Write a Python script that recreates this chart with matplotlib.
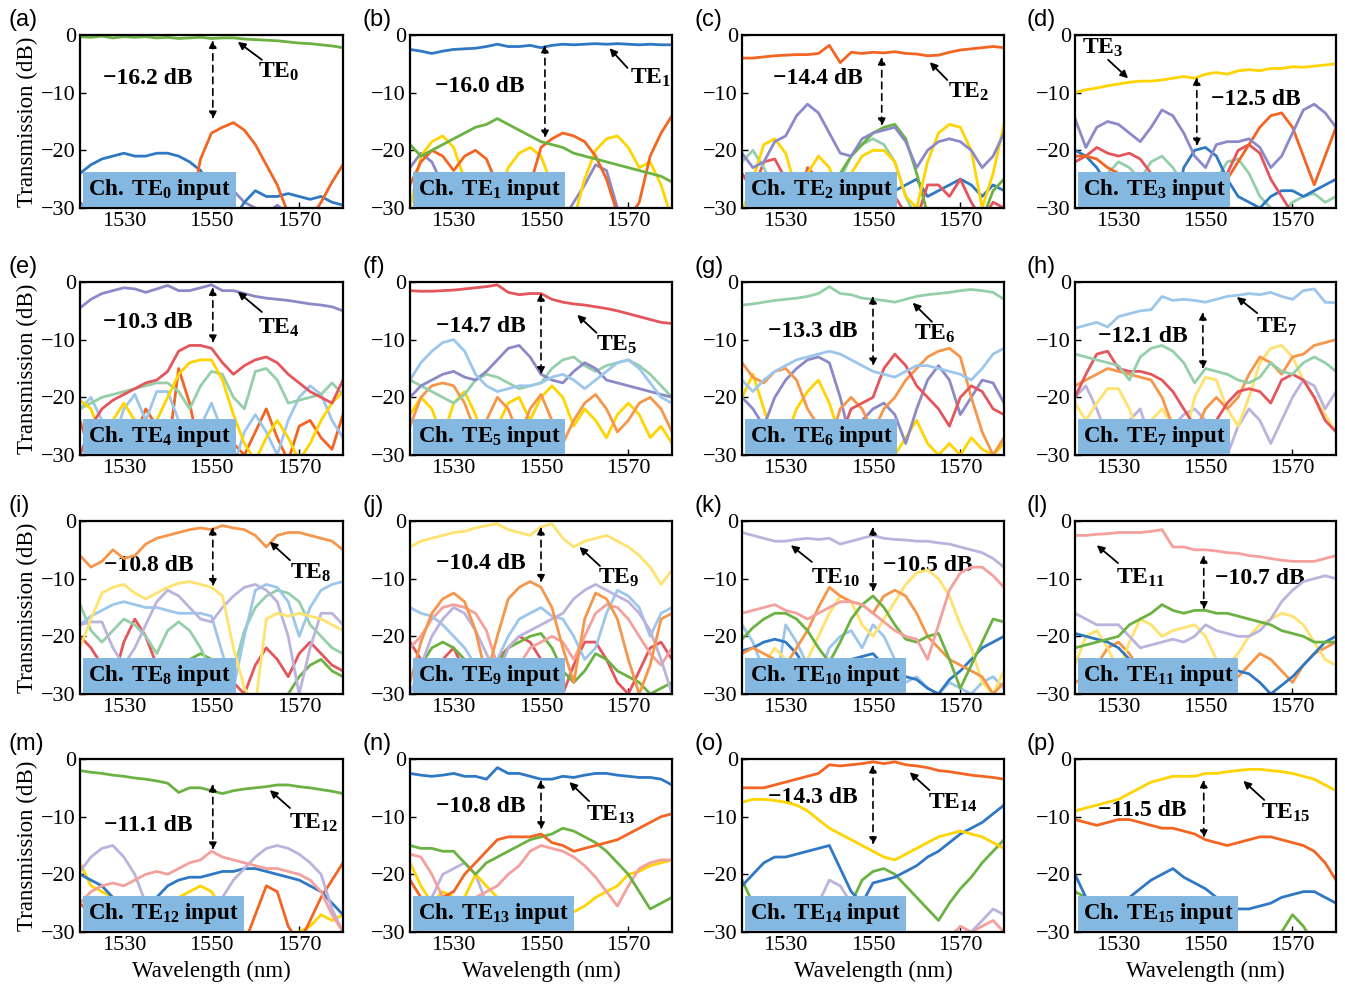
import numpy as np
import matplotlib
matplotlib.use("Agg")
import matplotlib.pyplot as plt

plt.rcParams["font.family"] = ["Liberation Serif", "DejaVu Serif"]
plt.rcParams["mathtext.fontset"] = "custom"
plt.rcParams["mathtext.rm"] = "Liberation Serif"
plt.rcParams["mathtext.bf"] = "Liberation Serif:bold"
plt.rcParams["mathtext.it"] = "Liberation Serif:italic"

# wavelength grid (nm), values read every 2.5 nm; -32 means below the axis
WL = np.arange(1520, 1580.1, 2.5)

GREEN, BLUE, ORANGE, YELLOW = "#6cb243", "#2f78c4", "#f26522", "#ffd400"
PURPLE, RED, MINT, LBLUE = "#8b89c7", "#e4555c", "#95cfaa", "#9dc6ec"
LORANGE, LYELLOW, LPURPLE, PINK = "#f5964a", "#ffe26e", "#bbb3dd", "#f4a09c"

# (a) TE0 input
A_GREEN = [-0.3, -0.4, -0.2, -0.5, -0.3, -0.4, -0.3, -0.5, -0.4, -0.6, -0.5, -0.4, -0.6, -0.5, -0.5, -0.7, -0.8, -0.9, -1.0, -1.2, -1.4, -1.5, -1.7, -1.9, -2.2]
A_BLUE = [-24, -22.5, -21.5, -21, -20.5, -21, -21, -20.5, -20.5, -21, -22, -23.5, -26.5, -29, -32, -29, -27, -28, -28, -27.5, -28, -28.5, -28, -29, -29.5]
A_ORANGE = [-32, -32, -32, -32, -32, -32, -32, -32, -32, -32, -31, -21.5, -17, -16, -15.2, -16.5, -19, -22.5, -26, -31, -32, -32, -29, -25.5, -22.5]
A_PURPLE = [-29, -31, -26.5, -28, -31, -27, -30, -27, -31, -26.5, -31, -29, -28, -26.5, -27, -29, -30, -31, -29.5, -31, -32, -32, -32, -32, -32]

# (b) TE1 input
B_BLUE = [-2.5, -2.8, -3.2, -2.8, -2.5, -2.4, -2.3, -2.0, -1.6, -2.0, -2.0, -1.8, -2.2, -1.8, -1.6, -1.7, -1.6, -1.5, -1.6, -1.5, -1.6, -1.7, -1.6, -1.7, -1.7]
B_GREEN = [-19, -21, -20, -19, -18, -17, -16, -15.5, -14.5, -15.5, -16.5, -17.5, -18.5, -19, -19.5, -20.5, -21, -21.5, -22, -22.5, -23, -23.5, -24, -24.5, -25.5]
B_ORANGE = [-26, -22, -20, -21, -23.5, -21, -20, -21.5, -26, -31, -32, -26, -19.5, -18, -17, -17.5, -18.5, -21, -25, -31, -32, -29, -21, -17, -14]
B_YELLOW = [-30, -21, -18.5, -17.5, -19.5, -25, -31, -32, -28, -23, -20.5, -19.5, -21, -26, -31, -32, -25, -20, -18, -17.5, -19.5, -23, -22, -26, -32]
B_PURPLE = [-23, -20.5, -22, -26, -27, -26.5, -29, -32, -32, -32, -32, -32, -32, -32, -32, -29, -26, -22.5, -23.5, -30, -32, -32, -32, -32, -32]

# (c) TE2 input
C_ORANGE = [-4, -4, -3.8, -3.6, -3.5, -3.4, -3.4, -3.2, -1.8, -4.8, -3, -3.2, -3, -3.1, -2.9, -3.2, -3.3, -3.6, -3.5, -3.0, -2.6, -2.4, -2.2, -2.0, -2.2]
C_PURPLE = [-20.5, -23, -22, -18.5, -17.5, -14, -12, -13.5, -17, -20.5, -21, -18, -17, -16.5, -16, -18.5, -23, -20, -18.5, -18, -18.5, -20, -23, -21, -17]
C_YELLOW = [-31, -25, -19, -18, -20.5, -27, -24, -21, -23, -28, -24, -21, -20, -20, -22, -28, -30, -22, -17, -15.5, -16, -20, -30, -24, -15.5]
C_GREEN = [-32, -32, -32, -32, -32, -32, -32, -26, -25.5, -24, -21, -19, -17, -16, -15.5, -18, -24, -31, -32, -32, -32, -32, -32, -27, -25]
C_MINT = [-22, -20, -23, -27, -31, -32, -32, -32, -32, -25, -21, -19, -18, -19, -22, -28, -32, -32, -32, -32, -32, -32, -32, -32, -32]
C_RED = [-24, -27, -22, -21.5, -25, -31, -23, -25, -31, -32, -27, -25, -27, -24, -28, -31, -32, -26, -26, -28, -25, -29, -32, -29, -30]
C_BLUE = [-32, -32, -32, -32, -32, -32, -32, -32, -32, -32, -32, -32, -25, -26, -27, -26, -25, -28, -27, -26, -25, -26, -28, -26, -27]

# (d) TE3 input
D_YELLOW = [-10, -9.5, -9.2, -8.8, -8.5, -8.2, -8.0, -8.0, -7.8, -7.5, -7.2, -7.5, -6.8, -6.5, -6.8, -6.2, -6.0, -6.2, -5.8, -5.8, -5.5, -5.6, -5.4, -5.2, -5.0]
D_PURPLE = [-14.5, -19.5, -16, -15, -15.5, -17, -18.5, -16, -13, -14, -17, -21, -23, -19, -18.5, -18.5, -18, -19.5, -23, -21, -17, -13, -12, -13.5, -16]
D_ORANGE = [-21, -21, -21.5, -23, -24, -24.5, -25, -26, -28, -27, -26, -25, -26, -27, -25, -22, -19, -16, -14, -13.5, -16, -21, -26, -21, -16]
D_RED = [-22, -21, -19.5, -20.5, -21, -20.5, -21.5, -24, -30, -32, -32, -32, -32, -32, -24, -20, -19, -20.5, -25, -28, -31, -32, -32, -32, -32]
D_BLUE = [-20, -21, -23, -26, -28, -29, -32, -32, -32, -32, -23, -20, -19.5, -21, -25, -28, -29, -30, -28, -27, -27, -28, -27, -26, -25]
D_MINT = [-32, -32, -26, -24, -22, -23, -25, -22, -21, -23, -26, -29, -28, -25, -22, -21.5, -24, -28, -30, -31, -29, -28, -27.5, -29, -28]

# (e) TE4 input
E_PURPLE = [-4.5, -3, -2, -1.5, -1, -1.2, -1.8, -1.2, -0.6, -1.5, -1.5, -1.0, -0.5, -1.5, -1.5, -2.0, -2.5, -2.8, -3.0, -3.2, -3.5, -3.8, -4.0, -4.3, -5.0]
E_RED = [-30, -25, -22, -20.5, -19.5, -18.5, -17.5, -17, -15.5, -12, -11, -11, -11.5, -14, -16, -14.5, -13.5, -13, -14, -16, -17.5, -19, -20, -21, -17]
E_YELLOW = [-20.5, -22, -27, -24, -21, -24, -27, -24, -20, -16, -14, -13.5, -13.5, -17, -23, -28, -31, -27, -24, -27, -31, -28, -24, -21, -19]
E_MINT = [-22, -21, -20, -19.5, -19, -18.5, -18, -17.5, -17.5, -19, -22, -18, -15.5, -16, -20, -22, -15.5, -15, -17, -21, -20.5, -20, -19.5, -17.5, -19.5]
E_LBLUE = [-22, -20, -24, -28, -22, -19.5, -24, -19, -19, -24, -30, -25, -21, -26, -32, -26, -23, -26, -30, -24, -20, -18, -19.5, -24, -27]
E_ORANGE = [-24, -30, -26, -24, -30, -27, -22, -25, -30, -15, -21, -30, -26, -24, -28, -30, -26, -22, -27, -31, -25, -24, -27, -29, -23]

# (f) TE5 input
F_RED = [-1.5, -1.6, -1.6, -1.5, -1.4, -1.2, -1.0, -0.8, -0.5, -1.8, -2.2, -2.0, -2.0, -3.0, -3.5, -3.8, -4.0, -4.3, -4.6, -5.0, -5.5, -6.0, -6.5, -7.0, -7.2]
F_LBLUE = [-17, -14, -12, -10.5, -10, -12, -16, -18, -19, -18.5, -18, -18, -17.5, -16.5, -16, -17, -18.5, -17, -15.5, -14, -13.5, -15, -17.5, -20, -21]
F_PURPLE = [-20, -18, -17, -16, -15.5, -16.5, -17, -15.5, -13.5, -11.5, -11, -13, -16, -17, -17.5, -15.5, -14, -15, -17, -17.5, -18, -18.5, -19, -19.5, -20]
F_MINT = [-17, -18, -19, -20, -21, -19.5, -17, -16, -16.5, -17.5, -18.5, -18, -17.5, -15, -13.5, -13, -14.5, -15.5, -14.5, -14, -13.5, -14.5, -16, -18, -20]
F_ORANGE = [-25, -20, -18, -17.5, -18, -21, -26, -24, -20, -22, -27, -22, -19.5, -24, -28, -24, -21, -19.5, -22, -26, -24, -21, -20, -22, -26]
F_YELLOW = [-23, -20, -22, -27, -21, -19, -23, -29, -25, -21, -20, -24, -20, -18, -20, -25, -22, -24, -27, -23, -21, -23, -27, -25, -28]

# (g) TE6 input
G_MINT = [-4, -3.8, -3.5, -3.2, -3, -2.8, -2.5, -2.0, -0.8, -2.0, -2.2, -2.8, -3.0, -3.2, -3.5, -3.0, -2.5, -2.2, -2.0, -1.8, -1.5, -1.3, -1.5, -1.8, -3.0]
G_LBLUE = [-17, -19, -17, -15.5, -14.5, -13.5, -13, -12.5, -12, -12.5, -13.5, -14.5, -15.5, -16, -16.5, -15.5, -14.5, -14.5, -15, -15.5, -16, -17, -15, -12.5, -11.5]
G_RED = [-32, -32, -32, -32, -32, -32, -32, -32, -32, -27, -22, -21, -20, -15, -12.5, -14.5, -18, -20, -22, -25, -20, -18, -19, -22, -23]
G_ORANGE = [-14, -16.5, -17.5, -15.5, -15, -17, -22, -25, -28, -22, -20, -22, -26, -22, -20, -17, -15, -13, -12, -11.5, -13, -20, -26, -30, -27]
G_PURPLE = [-20, -22, -25, -20, -17, -15, -13.5, -13, -14, -20, -28, -24, -22, -21, -23, -28, -22, -17, -14.5, -17, -23, -20, -17, -17.5, -21]
G_YELLOW = [-20, -16, -22, -28, -27, -22, -19, -17, -21, -27, -30, -26, -24, -27, -30, -27, -24, -28, -30, -28, -30, -27, -29, -30, -28]

# (h) TE7 input
H_LBLUE = [-8, -7.5, -7, -7.8, -6, -5.5, -5, -4.8, -2.5, -3.2, -3, -3.2, -3.5, -3.0, -2.5, -2.3, -2.0, -2.2, -1.8, -2.5, -3.0, -1.5, -1.2, -3.5, -3.6]
H_MINT = [-12.5, -13, -13.5, -14, -14.5, -17, -13, -11.5, -11, -12, -14, -17.5, -15, -15.5, -16, -17, -17.5, -16.5, -14, -15.5, -16, -14, -13, -14, -15.5]
H_RED = [-20, -16, -12.5, -12, -15, -15.5, -15.5, -16, -17, -19, -22, -25, -27, -24, -21, -19, -18.5, -19, -21, -17, -16, -17, -20, -24, -26]
H_ORANGE = [-18, -17, -16, -15, -15.5, -16, -16.5, -17, -20, -25, -30, -26, -22, -20, -22, -20, -16, -13, -14, -16, -13, -12.5, -11, -10.5, -10]
H_YELLOW = [-21, -24, -21, -18.5, -18.5, -22, -27, -24, -22, -25, -28, -20, -16.5, -17, -22, -25, -20, -14, -11.5, -11, -13, -17, -20, -23, -26]
H_PURPLE = [-20, -18, -22, -27, -28, -24, -22, -28, -30, -25, -23, -22, -24, -27, -30, -25, -22, -24, -28, -24, -20, -17, -18, -22, -19]

# (i) TE8 input
I_LORANGE = [-6, -8, -7, -5, -6.5, -6, -4, -3, -2.5, -2, -1.5, -1.2, -1.5, -0.8, -1.2, -1.5, -2.5, -4.5, -2.5, -2, -2, -2.5, -3, -3.5, -5]
I_YELLOW = [-22, -17, -12.5, -11.5, -11, -12.5, -13.5, -12.5, -11.5, -10.8, -10.5, -11, -11.5, -13, -22, -29, -32, -17, -16, -16.5, -16, -16.5, -17, -18, -19]
I_LPURPLE = [-18, -17.5, -17.5, -22, -25, -22, -18, -14, -12, -13, -15, -17, -17.5, -15, -13, -11.5, -11, -12, -14, -20, -30, -22, -16, -16, -18]
I_LBLUE = [-18, -16.5, -15.5, -14.5, -14, -14.5, -15, -15, -15.5, -16, -16, -16, -16.5, -23, -29, -20, -12, -11, -11.5, -14, -20, -15, -12, -11, -10.5]
I_MINT = [-14.5, -19, -21, -19, -17, -18, -20, -23, -19, -17.5, -19, -22, -26, -30, -26, -19, -15, -13, -12, -12.5, -14, -18, -20, -22, -23]
I_RED = [-20, -22, -25, -28, -21, -17, -20, -25, -30, -28, -26, -29, -30, -27, -28, -30, -25, -22, -24, -27, -23, -21, -23, -25, -26]
I_GREEN = [-32, -32, -32, -32, -32, -32, -32, -32, -28, -25, -24, -23, -24, -27, -30, -32, -32, -32, -32, -30, -27, -25, -24, -26, -27]

# (j) TE9 input
J_LYELLOW = [-4.5, -3.5, -3, -2.5, -2, -1.8, -1.2, -0.8, -0.5, -1.5, -2, -2.5, -1, -0.5, -3, -4.5, -3.5, -3, -2.5, -3.5, -4.5, -6, -8, -11, -8.5]
J_ORANGE = [-28, -21, -16, -13.5, -12.5, -14, -19, -27, -20, -13.5, -11.5, -10.5, -11.5, -15, -22, -28, -17, -12.5, -13.5, -17, -24, -30, -25, -17, -16]
J_LPURPLE = [-30, -25, -20, -17, -15, -16, -19, -23, -27, -22, -20, -19, -18, -17, -16, -13.5, -12, -11, -12, -13, -14, -16, -19, -24, -30]
J_LBLUE = [-15, -16, -16.5, -18, -20, -22, -25, -28, -24, -20, -17, -16, -15, -16.5, -17, -20, -24, -22, -16, -12, -13, -15, -20, -16, -15]
J_PINK = [-22, -20, -17, -15, -14.5, -15, -16, -19, -25, -28, -25, -22, -21, -20, -21, -24, -20, -16, -14.5, -15, -17, -20, -23, -25, -22]
J_GREEN = [-27, -25, -22, -21, -22, -24, -27, -29, -25, -22, -21, -20, -19.5, -22, -26, -28, -26, -23, -24, -26, -27, -28, -30, -29, -28]
J_RED = [-21, -24, -27, -24, -22, -26, -30, -27, -24, -22, -20, -21, -24, -27, -30, -25, -21, -21, -24, -28, -30, -26, -22, -21, -24]

# (k) TE10 input
K_LPURPLE = [-2, -2.5, -3, -3.5, -3.5, -3.2, -3, -3.2, -3, -4, -3.5, -3, -2.5, -3, -3.2, -3.3, -3.5, -3.5, -3.8, -4, -4.5, -5, -5.5, -6.5, -8]
K_PINK = [-16, -15.5, -15, -14.5, -15.5, -16, -17, -16, -15, -14, -14, -14.5, -16, -17.5, -19, -20, -20.5, -24, -18, -12, -9, -8, -8, -9.5, -11.5]
K_GREEN = [-20.5, -18.5, -17, -16, -16, -17, -19, -22, -24.5, -21, -17, -14.5, -13, -15, -18, -20.5, -21, -20, -19.5, -24, -29, -25, -21, -17, -17.5]
K_ORANGE = [-23, -22, -23, -24, -25, -22, -19, -15, -11.5, -13, -14, -14.5, -16, -13, -12, -13, -16, -20, -22, -24, -25, -26, -27, -30, -28]
K_YELLOW = [-32, -30, -25, -22, -24, -27, -24, -20, -16, -13, -14, -18, -20, -17, -14, -11, -9, -8.5, -10, -13, -18, -22, -28, -30, -26]
K_BLUE = [-22.5, -22, -21, -20.5, -21, -23, -26, -25, -25, -24.5, -24, -23.5, -23, -25, -26, -27, -27.5, -29, -30, -27.5, -26, -24, -22, -21, -20]
K_LBLUE = [-18, -21, -26, -30, -18, -21, -25, -27, -22, -20, -19, -22, -18, -20, -24, -28, -27, -29, -30, -28, -29, -30, -28, -27, -29]

# (l) TE11 input
L_PINK = [-2.5, -2.5, -2.3, -2.2, -2, -2, -2, -1.8, -1.5, -4.5, -4.5, -5, -5, -5.2, -5.5, -5.6, -6, -6.2, -6.5, -6.8, -7, -7, -7, -6.5, -6]
L_GREEN = [-22, -21.5, -21, -20.5, -20, -18, -17, -16, -14.5, -15.5, -16, -15.5, -15.5, -16, -16, -16.5, -17, -17.5, -18, -19, -19.5, -20, -21, -21, -21]
L_LPURPLE = [-16, -17, -18, -18, -18, -20, -22, -21.5, -21, -20.5, -21, -20, -18, -19, -19.5, -20, -20, -19, -17, -14, -12, -10.5, -10, -9.5, -10]
L_BLUE = [-19.5, -20, -20.5, -21, -22, -24, -25.5, -26, -27, -27, -27, -27, -27.5, -26, -25.5, -26, -26.5, -28, -30, -28.5, -27, -25, -23, -21, -20]
L_YELLOW = [-25, -20, -19, -22, -26, -21, -17, -18, -20, -19, -18.5, -18, -20, -24, -25, -23, -20, -18, -17, -16, -16.5, -18, -21, -24, -25]
L_ORANGE = [-28, -27, -25, -22, -21, -23, -26, -29, -30, -28, -30, -32, -32, -32, -29, -27, -25, -23, -24, -26, -28, -25, -23, -22, -21]

# (m) TE12 input
M_GREEN = [-2, -2.3, -2.5, -2.8, -3, -3.3, -3.5, -3.8, -4.2, -5.8, -5, -5, -5.5, -6, -5.5, -5.2, -5, -4.8, -4.5, -4.5, -4.8, -5, -5.3, -5.6, -6]
M_PINK = [-25, -23, -22, -21.5, -22, -21, -20, -19.5, -20, -19, -18, -17.5, -16, -17, -17.5, -18, -18.5, -19, -19, -19.5, -20, -21, -23, -27, -30]
M_LPURPLE = [-19.5, -17, -15.5, -15, -17, -20, -25, -28, -32, -32, -32, -30, -27, -24, -21, -19, -17, -15.5, -15, -15.5, -16.5, -18, -20, -26, -30]
M_BLUE = [-20, -21, -22, -24, -25, -25.5, -25, -24, -22, -21, -20.5, -20.5, -20, -19.5, -19.5, -19, -19, -19.5, -20, -20.5, -21, -22, -23, -25, -27]
M_ORANGE = [-25, -27, -26, -28, -30, -27, -26, -25, -26, -28, -30, -29, -28, -30, -32, -32, -27, -22, -23, -29, -32, -28, -24, -21, -18]
M_YELLOW = [-18, -22, -23, -24, -25, -26, -26, -27, -25, -24, -23, -22, -23, -26, -29, -30, -32, -32, -32, -32, -30, -29, -27, -28, -27]

# (n) TE13 input
N_BLUE = [-2.5, -2.8, -3, -2.8, -2.5, -3, -3, -3.5, -1.5, -2.5, -2.5, -3, -3.5, -3.5, -3, -3.2, -2.8, -2.5, -2.5, -2.8, -3, -3.2, -3.2, -3.5, -4.5]
N_ORANGE = [-21, -24, -25, -24, -23, -20, -18, -16, -14, -13.5, -13.5, -13.5, -13, -14.5, -15, -16, -15.5, -15, -14.5, -14, -13, -12, -11, -10, -9.5]
N_GREEN = [-15, -15.5, -15.5, -16, -16, -18, -20, -18, -17, -16, -15, -14, -13.5, -13, -12, -12.5, -13.5, -14.5, -16, -18, -20, -23, -26, -25, -24]
N_PINK = [-16.5, -17, -20, -24, -25, -26, -24, -23, -22, -20, -18.5, -16, -15, -15.5, -16, -17, -18.5, -20.5, -23, -25.5, -22, -19, -18, -17.5, -17.5]
N_YELLOW = [-18, -22, -25, -23, -24, -24, -20, -22, -24, -24, -24, -25, -27, -26, -26, -26.5, -25.5, -24, -23, -22, -20, -19.5, -18.5, -18, -17.5]
N_LPURPLE = [-32, -30, -24, -20, -19, -18, -20, -25, -29, -31, -32, -32, -32, -32, -32, -32, -32, -32, -32, -32, -32, -32, -32, -32, -32]

# (o) TE14 input
O_ORANGE = [-5, -5, -5, -4.5, -4, -3.5, -3, -2.5, -1, -1.2, -1, -0.8, -0.5, -0.8, -0.5, -1, -1.2, -1.5, -2, -2.2, -2.5, -2.8, -3, -3.2, -3.5]
O_YELLOW = [-7.5, -7, -7, -7.2, -7.5, -8, -9, -10.5, -12, -13, -14, -15, -16, -17, -17.5, -16.5, -15.5, -14.5, -13.5, -13, -12.5, -13, -13.5, -14.5, -15.5]
O_BLUE = [-22, -20, -18, -17, -17, -16.5, -16, -15.5, -15, -19, -23, -25, -21.5, -21, -20.5, -19.5, -18.5, -17, -16, -14.5, -13, -12, -11, -9.5, -8]
O_GREEN = [-21, -25, -27, -27, -27, -28, -29, -28, -26, -25, -25, -21, -19.5, -19, -20, -22, -24, -26, -28, -25, -22.5, -20.5, -18, -16, -14]
O_LPURPLE = [-32, -32, -28, -26, -26, -27, -28, -25, -21, -22, -25, -27, -28, -30, -32, -32, -32, -32, -32, -32, -32, -30, -28, -26, -27]
O_PINK = [-32, -32, -27, -28, -30, -32, -32, -32, -32, -32, -32, -32, -32, -32, -32, -32, -32, -32, -32, -31, -29, -30, -29, -28, -30]

# (p) TE15 input
P_YELLOW = [-9, -8.5, -8, -7.5, -7, -6, -5, -4, -3.5, -3, -3, -3, -2.5, -2.5, -2.2, -2, -1.8, -1.8, -2, -2.2, -2.5, -3, -3.5, -4.5, -5.5]
P_ORANGE = [-10.5, -11, -11.5, -11, -10.5, -10.5, -11, -11.5, -12, -12, -12.5, -13, -14, -14.5, -15, -14.5, -14, -13.5, -13.5, -14, -14.5, -15, -16, -18, -21]
P_BLUE = [-20, -24, -28, -32, -27, -24, -22.5, -21, -20, -19, -20.5, -21.5, -22.5, -24, -25.5, -26, -26, -25.5, -25, -24, -23.5, -23, -23, -24, -25]
P_GREEN = [-23, -24, -25, -26, -27, -27, -28, -32, -32, -32, -32, -32, -32, -32, -32, -32, -32, -32, -32, -30, -27, -29, -32, -32, -32]

# crosstalk values written in each panel
XTALK = ["16.2", "16.0", "14.4", "12.5", "10.3", "14.7", "13.3", "12.1",
         "10.8", "10.4", "10.5", "10.7", "11.1", "10.8", "14.3", "11.5"]

# curves per panel: (data, colour); the launched mode is drawn last
panels = [
    [(A_PURPLE, PURPLE), (A_BLUE, BLUE), (A_ORANGE, ORANGE), (A_GREEN, GREEN)],
    [(B_PURPLE, PURPLE), (B_YELLOW, YELLOW), (B_ORANGE, ORANGE), (B_GREEN, GREEN), (B_BLUE, BLUE)],
    [(C_BLUE, BLUE), (C_RED, RED), (C_MINT, MINT), (C_GREEN, GREEN), (C_YELLOW, YELLOW), (C_PURPLE, PURPLE), (C_ORANGE, ORANGE)],
    [(D_MINT, MINT), (D_BLUE, BLUE), (D_RED, RED), (D_ORANGE, ORANGE), (D_PURPLE, PURPLE), (D_YELLOW, YELLOW)],
    [(E_ORANGE, ORANGE), (E_LBLUE, LBLUE), (E_MINT, MINT), (E_YELLOW, YELLOW), (E_RED, RED), (E_PURPLE, PURPLE)],
    [(F_YELLOW, YELLOW), (F_ORANGE, LORANGE), (F_MINT, MINT), (F_PURPLE, PURPLE), (F_LBLUE, LBLUE), (F_RED, RED)],
    [(G_YELLOW, YELLOW), (G_PURPLE, PURPLE), (G_ORANGE, LORANGE), (G_RED, RED), (G_LBLUE, LBLUE), (G_MINT, MINT)],
    [(H_PURPLE, LPURPLE), (H_YELLOW, LYELLOW), (H_ORANGE, LORANGE), (H_RED, RED), (H_MINT, MINT), (H_LBLUE, LBLUE)],
    [(I_GREEN, GREEN), (I_RED, RED), (I_MINT, MINT), (I_LBLUE, LBLUE), (I_LPURPLE, LPURPLE), (I_YELLOW, LYELLOW), (I_LORANGE, LORANGE)],
    [(J_RED, RED), (J_GREEN, GREEN), (J_PINK, PINK), (J_LBLUE, LBLUE), (J_LPURPLE, LPURPLE), (J_ORANGE, LORANGE), (J_LYELLOW, LYELLOW)],
    [(K_LBLUE, LBLUE), (K_BLUE, BLUE), (K_YELLOW, LYELLOW), (K_ORANGE, LORANGE), (K_GREEN, GREEN), (K_PINK, PINK), (K_LPURPLE, LPURPLE)],
    [(L_ORANGE, LORANGE), (L_YELLOW, LYELLOW), (L_BLUE, BLUE), (L_LPURPLE, LPURPLE), (L_GREEN, GREEN), (L_PINK, PINK)],
    [(M_YELLOW, YELLOW), (M_ORANGE, ORANGE), (M_BLUE, BLUE), (M_LPURPLE, LPURPLE), (M_PINK, PINK), (M_GREEN, GREEN)],
    [(N_LPURPLE, LPURPLE), (N_YELLOW, YELLOW), (N_PINK, PINK), (N_GREEN, GREEN), (N_ORANGE, ORANGE), (N_BLUE, BLUE)],
    [(O_PINK, PINK), (O_LPURPLE, LPURPLE), (O_GREEN, GREEN), (O_BLUE, BLUE), (O_YELLOW, YELLOW), (O_ORANGE, ORANGE)],
    [(P_GREEN, GREEN), (P_BLUE, BLUE), (P_ORANGE, ORANGE), (P_YELLOW, YELLOW)],
]

# annotation layout (data coords): dB text pos, dashed arrow x/y1/y2, TE label pos, arrow tail, arrow head
notes = [
    ((1525.2, -7.6), (1550.3, -0.9, -14.6), (1565.4, -6.4), (1561.5, -4.3), (1556.0, -1.2)),
    ((1525.7, -9.0), (1550.9, -1.7, -17.9), (1575.0, -7.5), (1569.8, -5.7), (1565.7, -2.3)),
    ((1527.0, -7.6), (1552.0, -3.8, -15.8), (1572.0, -9.9), (1567.0, -7.8), (1563.0, -4.7)),
    ((1551.3, -11.1), (1548.0, -7.3, -19.3), (1526.4, -2.3), (1527.6, -4.3), (1532.2, -7.5)),
    ((1525.2, -7.1), (1550.3, -0.9, -10.6), (1565.4, -8.0), (1561.5, -5.2), (1556.0, -1.7)),
    ((1526.0, -7.8), (1550.0, -1.9, -16.1), (1567.4, -10.9), (1562.7, -8.8), (1558.3, -5.7)),
    ((1526.0, -8.5), (1550.0, -2.4, -14.6), (1564.2, -9.0), (1563.5, -6.9), (1559.1, -3.6)),
    ((1525.3, -9.4), (1549.4, -5.2, -15.1), (1566.4, -7.8), (1561.9, -5.4), (1557.2, -2.6)),
    ((1525.4, -7.8), (1550.3, -1.0, -11.4), (1572.7, -9.0), (1567.9, -6.8), (1563.3, -3.6)),
    ((1526.0, -7.3), (1550.0, -1.0, -10.7), (1567.9, -9.9), (1563.5, -7.8), (1558.8, -4.5)),
    ((1552.4, -7.8), (1550.0, -1.0, -12.3), (1541.5, -9.9), (1536.0, -7.1), (1531.2, -4.2)),
    ((1552.2, -9.9), (1549.6, -5.9, -15.4), (1535.0, -9.9), (1529.9, -7.3), (1525.0, -4.2)),
    ((1525.4, -11.6), (1550.3, -4.3, -15.8), (1573.4, -11.1), (1567.9, -8.5), (1563.3, -5.4)),
    ((1526.0, -8.3), (1550.0, -3.6, -12.3), (1565.9, -9.7), (1561.0, -7.3), (1556.5, -4.0)),
    ((1526.0, -6.6), (1550.0, -1.0, -14.9), (1568.3, -7.6), (1562.9, -5.4), (1558.4, -2.3)),
    ((1525.3, -8.9), (1549.6, -3.6, -13.7), (1568.5, -9.4), (1563.5, -7.1), (1558.7, -3.8)),
]

W, H = 1345, 990
col_left = [80, 410, 742, 1075]
col_width = [263, 262, 262, 261]
row_top = [35, 282, 521, 759]
ax_h = 173
letters = "abcdefghijklmnop"

fig = plt.figure(figsize=(W / 100, H / 100), dpi=100)

for k in range(16):
    r, c = divmod(k, 4)
    left, top = col_left[c], row_top[r]
    ax = fig.add_axes([left / W, 1 - (top + ax_h) / H, col_width[c] / W, ax_h / H])

    for vals, col in panels[k]:
        ax.plot(WL, vals, color=col, lw=2.0, zorder=2)

    ax.set_xlim(1520, 1580)
    ax.set_ylim(-30, 0)
    ax.set_xticks([1530, 1550, 1570])
    ax.set_yticks([0, -10, -20, -30])
    ax.tick_params(direction="in", length=4, width=1, labelsize=16, pad=3)
    for sp in ax.spines.values():
        sp.set_linewidth(1.6)

    if c == 0:
        ax.set_ylabel("Transmission (dB)", fontsize=16.5, labelpad=2)
    if r == 3:
        ax.set_xlabel("Wavelength (nm)", fontsize=16.5, labelpad=4)

    txt, (ax_x, y1, y2), lab, tail, head = notes[k]
    ax.text(txt[0], txt[1], "\u2212" + XTALK[k] + " dB", fontsize=17,
            fontweight="bold", ha="left", va="center", zorder=1)
    ax.annotate("", xy=(ax_x, y2), xytext=(ax_x, y1),
                arrowprops=dict(arrowstyle="<|-|>", ls=(0, (4, 3)), lw=1.2,
                                color="k", mutation_scale=11, shrinkA=0, shrinkB=0),
                zorder=3)
    ax.text(lab[0], lab[1], r"$\mathbf{TE_{%d}}$" % k, fontsize=17,
            ha="center", va="center", zorder=3)
    ax.annotate("", xy=head, xytext=tail,
                arrowprops=dict(arrowstyle="-|>", lw=1.3, color="k",
                                mutation_scale=11, shrinkA=0, shrinkB=0),
                zorder=3)

    ax.text(0.03, 0.035, r"$\mathbf{Ch.\ TE_{%d}\ input}$" % k, transform=ax.transAxes,
            fontsize=16.5, ha="left", va="bottom", zorder=5,
            bbox=dict(boxstyle="square,pad=0.22", fc="#85b8e0", ec="none"))

    off = 72 if c == 0 else 48
    fig.text((left - off) / W, 1 - (top - 15) / H, "(%s)" % letters[k],
             family="Liberation Sans", fontsize=17, ha="left", va="center")

fig.savefig("out.png", dpi=100)
